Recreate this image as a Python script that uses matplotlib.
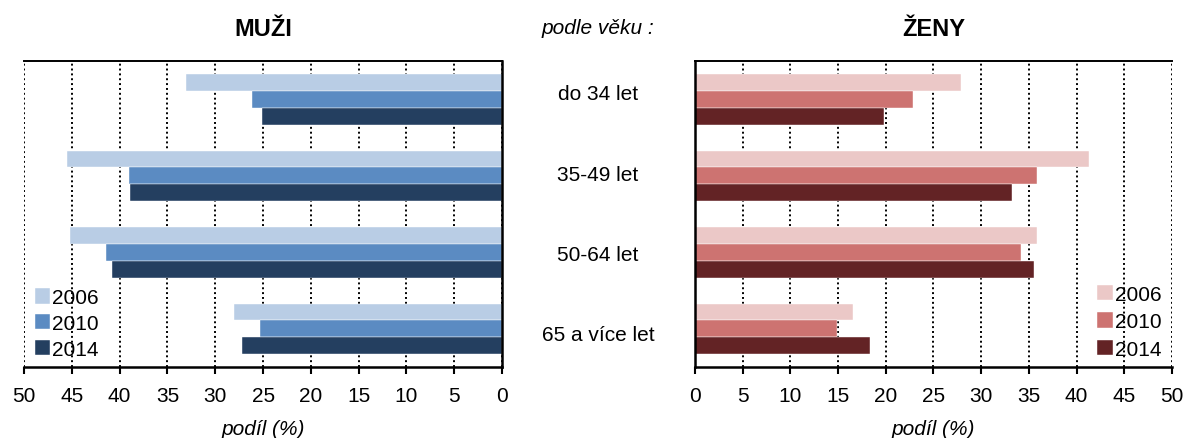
import numpy as np
from matplotlib import pyplot as plt
from matplotlib.transforms import blended_transform_factory

plt.rcParams['font.family'] = ['Liberation Sans', 'DejaVu Sans']

categories = ["do 34 let", "35-49 let", "50-64 let", "65 a více let"]
years = ["2006", "2010", "2014"]

men_2006 = [33.1, 45.5, 45.2, 28.0]
men_2010 = [26.2, 39.0, 41.4, 25.3]
men_2014 = [25.1, 38.9, 40.8, 27.2]

women_2006 = [27.9, 41.3, 35.9, 16.6]
women_2010 = [22.9, 35.9, 34.2, 14.9]
women_2014 = [19.8, 33.2, 35.5, 18.3]

men_colors = ["#B9CDE5", "#5B8BC2", "#243F60"]
women_colors = ["#EBC8C7", "#CD7371", "#632325"]

ticks = np.arange(0, 51, 5)


def draw_panel(ax, series, colors, title, invert):
    y = np.arange(len(categories))
    h = 0.22
    for k, (vals, col, lab) in enumerate(zip(series, colors, years)):
        ax.barh(y + (k - 1) * h, vals, height=h, color=col, label=lab,
                edgecolor='white', linewidth=0.3)
    ax.set_ylim(3.5, -0.5)
    if invert:
        ax.set_xlim(50, 0)
    else:
        ax.set_xlim(0, 50)
    ax.set_xticks(ticks)
    ax.set_xticklabels([str(t) for t in ticks], fontsize=15)
    ax.set_yticks([])
    ax.tick_params(axis='x', direction='out', length=5, width=1.5, pad=9)
    ax.set_axisbelow(True)
    ax.grid(axis='x', color='black', linestyle=(0, (1, 1.5)), linewidth=1.4)
    for s in ax.spines.values():
        s.set_color('black')
        s.set_linewidth(1.4)
    ax.spines['bottom'].set_linewidth(1.8)
    if invert:
        ax.spines['left'].set_visible(False)
        ax.spines['right'].set_linewidth(1.8)
    else:
        ax.spines['right'].set_visible(False)
        ax.spines['left'].set_linewidth(1.8)
    ax.set_xlabel("podíl (%)", fontsize=15, style='italic', labelpad=10)
    ax.set_title(title, fontsize=17, fontweight='bold', pad=19)


fig = plt.figure(figsize=(11.85, 4.39), dpi=100)
ax1 = fig.add_axes([0.0203, 0.1617, 0.4034, 0.697])
ax2 = fig.add_axes([0.5865, 0.1617, 0.4025, 0.697])

draw_panel(ax1, [men_2006, men_2010, men_2014], men_colors, "MUŽI", True)
draw_panel(ax2, [women_2006, women_2010, women_2014], women_colors, "ŽENY", False)

leg1 = ax1.legend(loc='lower left', bbox_to_anchor=(0.005, 0.0), frameon=False,
                  fontsize=15, handlelength=0.75, handleheight=0.75,
                  handletextpad=0.1, labelspacing=0.32, borderaxespad=0.2,
                  borderpad=0.2)
leg2 = ax2.legend(loc='lower right', bbox_to_anchor=(0.995, 0.0), frameon=False,
                  fontsize=15, handlelength=0.75, handleheight=0.75,
                  handletextpad=0.1, labelspacing=0.4, borderaxespad=0.2,
                  borderpad=0.2)

# category labels sit a bit wider apart than the bar groups
tr = blended_transform_factory(fig.transFigure, ax1.transData)
for i, cat in enumerate(categories):
    fig.text(598 / 1185, -0.07 + 1.05 * i, cat, transform=tr,
             ha='center', va='center', fontsize=15)
fig.text(598 / 1185, 1 - 28 / 439, "podle věku :", ha='center', va='center',
         fontsize=15, style='italic')

fig.savefig("out.png", dpi=100)
